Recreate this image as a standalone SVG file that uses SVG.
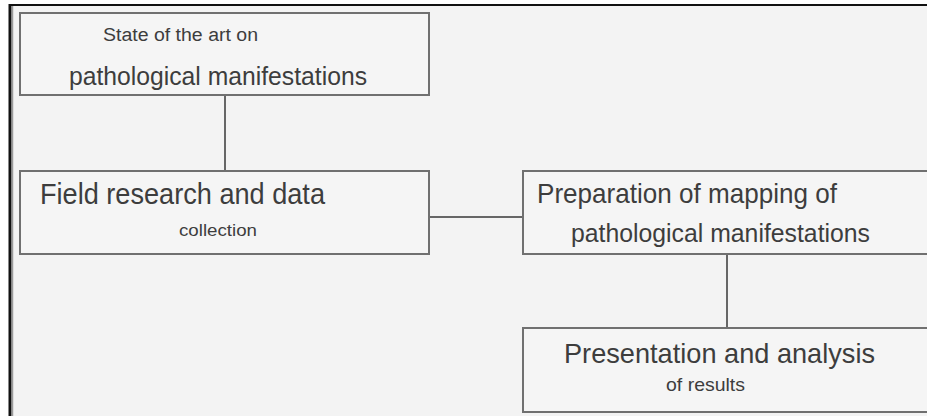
<svg xmlns="http://www.w3.org/2000/svg" width="927" height="416" viewBox="0 0 927 416">
  <style>
    .box { fill: #f5f5f5; stroke: #707070; stroke-width: 2; }
    .conn { stroke: #666666; stroke-width: 2; fill: none; }
    text { font-family: "Liberation Sans", Arial, sans-serif; fill: #3d3d3d; }
  </style>
  <rect x="0" y="0" width="927" height="416" fill="#ffffff"/>
  <g id="frame">
    <rect x="10" y="5" width="930" height="420" fill="#f3f3f3"/>
    <line x1="9" y1="5" x2="927" y2="5" stroke="#111111" stroke-width="2"/>
    <line x1="10" y1="4" x2="10" y2="416" stroke="#111111" stroke-width="3"/>
    <line x1="12.5" y1="6" x2="12.5" y2="416" stroke="#9a9a9a" stroke-width="1.5"/>
  </g>
  <g id="connectors">
    <line class="conn" x1="225" y1="95" x2="225" y2="171"/>
    <line class="conn" x1="429" y1="217" x2="523" y2="217"/>
    <line class="conn" x1="727" y1="254" x2="727" y2="328"/>
  </g>
  <g id="node-state-of-art">
    <rect class="box" x="20" y="13" width="409" height="82"/>
    <text x="103" y="41" font-size="18" textLength="155" lengthAdjust="spacingAndGlyphs">State of the art on</text>
    <text x="69" y="85" font-size="26" textLength="298" lengthAdjust="spacingAndGlyphs">pathological manifestations</text>
  </g>
  <g id="node-field-research">
    <rect class="box" x="20" y="171" width="409" height="83"/>
    <text x="40" y="204" font-size="29" textLength="285" lengthAdjust="spacingAndGlyphs">Field research and data</text>
    <text x="179" y="236" font-size="17" textLength="78" lengthAdjust="spacingAndGlyphs">collection</text>
  </g>
  <g id="node-mapping">
    <rect class="box" x="523" y="171" width="420" height="83"/>
    <text x="537" y="203" font-size="28" textLength="300" lengthAdjust="spacingAndGlyphs">Preparation of mapping of</text>
    <text x="571" y="242" font-size="26" textLength="299" lengthAdjust="spacingAndGlyphs">pathological manifestations</text>
  </g>
  <g id="node-presentation">
    <rect class="box" x="523" y="328" width="420" height="84"/>
    <text x="564" y="363" font-size="28" textLength="311" lengthAdjust="spacingAndGlyphs">Presentation and analysis</text>
    <text x="666" y="391" font-size="19" textLength="79" lengthAdjust="spacingAndGlyphs">of results</text>
  </g>
</svg>
